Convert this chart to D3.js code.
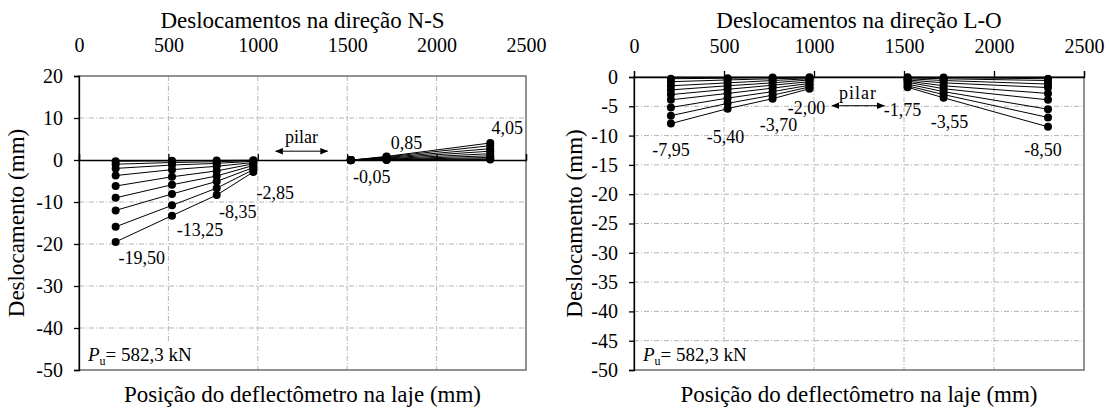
<!DOCTYPE html>
<html><head><meta charset="utf-8">
<script src="https://cdn.jsdelivr.net/npm/d3@7"></script>
<style>
html,body{margin:0;padding:0;background:#fff;}
svg, svg text{font-family:"Liberation Serif","Times New Roman",Tinos,"DejaVu Serif",serif !important;fill:#000;}
</style></head>
<body><svg id="c" width="1109" height="411" font-family="Liberation Serif, Times New Roman, DejaVu Serif, serif"></svg>
<script>
// ---------- data ----------
const positions = [205, 520, 770, 975, 1520, 1720, 2300];   // deflectometer positions (mm)
const leftGroup = [0, 1, 2, 3];     // indices left of the column
const rightGroup = [4, 5, 6];       // indices right of the column
const xTicks = [0, 500, 1000, 1500, 2000, 2500];
const nsYTicks = [20, 10, 0, -10, -20, -30, -40, -50];
const loYTicks = [0, -5, -10, -15, -20, -25, -30, -35, -40, -45, -50];

// N-S direction, one row per load step, values at each position (mm)
const nsSeries = [
  [-0.3, -0.2, -0.1, -0.05, 0.00, 0.02, 0.10],
  [-1.0, -0.6, -0.4, -0.15, 0.00, 0.05, 0.30],
  [-2.0, -1.2, -0.8, -0.30, 0.00, 0.10, 0.60],
  [-3.7, -2.3, -1.5, -0.60, 0.00, 0.20, 1.00],
  [-6.2, -4.0, -2.6, -0.90, -0.01, 0.30, 1.50],
  [-9.0, -5.9, -3.8, -1.30, -0.02, 0.45, 2.10],
  [-12.0, -8.1, -5.1, -1.80, -0.03, 0.60, 2.70],
  [-15.9, -10.8, -6.7, -2.30, -0.04, 0.75, 3.40],
  [-19.50, -13.25, -8.35, -2.85, -0.05, 0.85, 4.05]
];
// L-O direction
const loSeries = [
  [-0.3, -0.2, -0.1, -0.05, -0.05, -0.1, -0.3],
  [-0.8, -0.5, -0.3, -0.15, -0.15, -0.3, -0.6],
  [-1.5, -1.0, -0.6, -0.30, -0.30, -0.6, -1.2],
  [-2.2, -1.5, -1.0, -0.50, -0.50, -1.0, -1.8],
  [-3.0, -2.1, -1.4, -0.80, -0.70, -1.5, -2.8],
  [-3.9, -2.8, -1.9, -1.10, -0.90, -2.0, -3.9],
  [-5.2, -3.6, -2.5, -1.40, -1.20, -2.5, -5.5],
  [-6.6, -4.5, -3.1, -1.70, -1.50, -3.0, -6.9],
  [-7.95, -5.40, -3.70, -2.00, -1.75, -3.55, -8.50]
];
const titles = ["Deslocamentos na direção N-S", "Deslocamentos na direção L-O"];
const yLabel = "Deslocamento (mm)";
const xLabel = "Posição do deflectômetro na laje (mm)";
const pilarText = "pilar";
const pilarX = 1245;
const arrowX = [1100, 1390];
const puText = "= 582,3 kN";

// ---------- drawing ----------
const FONT = "Liberation Serif, Times New Roman, DejaVu Serif, serif";
const svg = d3.select("#c");
const fmt = v => v.toFixed(2).replace(".", ",");

function drawChart(o) {
  const x = d3.scaleLinear().domain([0, 2500]).range([o.x0, o.x1]);
  const y = d3.scaleLinear().domain(o.yDomain).range([o.yTop, o.yBot]);
  const g = svg.append("g").attr("font-family", FONT);

  // gridlines
  g.append("g").selectAll("line").data(xTicks.filter(d => d > 0 && d < 2500)).join("line")
    .attr("x1", d => x(d)).attr("x2", d => x(d)).attr("y1", o.yTop).attr("y2", o.yBot)
    .attr("stroke", "#b3b3b3").attr("stroke-width", 1).attr("stroke-dasharray", "5,2,1,2");
  g.append("g").selectAll("line").data(o.yTicks.filter(d => d !== 0 && d !== o.yDomain[0] && d !== o.yDomain[1])).join("line")
    .attr("x1", o.x0).attr("x2", o.x1).attr("y1", d => y(d)).attr("y2", d => y(d))
    .attr("stroke", "#b3b3b3").attr("stroke-width", 1).attr("stroke-dasharray", "5,2,1,2");

  // plot border
  g.append("rect").attr("x", o.x0).attr("y", o.yTop).attr("width", o.x1 - o.x0).attr("height", o.yBot - o.yTop)
    .attr("fill", "none").attr("stroke", "#6e6e6e").attr("stroke-width", 1.5);

  // Pu box
  const pu = g.append("g");
  pu.append("rect").attr("x", o.x0 + 1).attr("y", o.yBot - 28).attr("width", 118).attr("height", 27).attr("fill", "#fff");
  const t = pu.append("text").attr("x", o.x0 + 9).attr("y", o.yBot - 9).attr("font-size", 19);
  t.append("tspan").attr("font-style", "italic").text("P");
  t.append("tspan").attr("font-size", 12).attr("dy", 4).text("u");
  t.append("tspan").attr("dy", -4).text(puText);

  // zero axis line with ticks
  const xa = d3.axisTop(x).tickValues(xTicks).tickSize(6).tickFormat("");
  g.append("g").attr("transform", `translate(0,${y(0)})`).call(xa)
    .call(s => s.selectAll("path,line").attr("stroke", "#000").attr("stroke-width", 1.3));
  // top labels
  const xl = d3.axisTop(x).tickValues(xTicks).tickSize(0).tickPadding(0).tickFormat(d => d);
  g.append("g").attr("transform", `translate(0,${o.yTop - 24})`).call(xl)
    .attr("font-family", FONT).attr("font-size", 20)
    .call(s => s.select(".domain").remove());

  // y axis
  const ya = d3.axisLeft(y).tickValues(o.yTicks).tickSize(5).tickPadding(11).tickFormat(d => d);
  g.append("g").attr("transform", `translate(${o.x0},0)`).call(ya)
    .attr("font-family", FONT).attr("font-size", 20)
    .call(s => s.selectAll("path,line").attr("stroke", "#000").attr("stroke-width", 1.3));

  // series lines
  const line = d3.line().x(d => x(positions[d.i])).y(d => y(d.v));
  o.series.forEach(row => {
    [leftGroup, rightGroup].forEach(grp => {
      g.append("path").datum(grp.map(i => ({i, v: row[i]})))
        .attr("d", line).attr("fill", "none").attr("stroke", "#000").attr("stroke-width", 1);
    });
  });
  o.series.forEach(row => {
    g.append("g").selectAll("circle").data(row.map((v, i) => ({i, v}))).join("circle")
      .attr("cx", d => x(positions[d.i])).attr("cy", d => y(d.v)).attr("r", 4).attr("fill", "#000");
  });

  // value labels at final load step
  const last = o.series[o.series.length - 1];
  g.append("g").selectAll("text").data(last.map((v, i) => ({i, v}))).join("text")
    .attr("x", d => x(positions[d.i]) + o.labelOff[d.i][0])
    .attr("y", d => y(d.v) + o.labelOff[d.i][1] + 6)
    .attr("text-anchor", "middle").attr("font-size", 18).text(d => fmt(d.v));

  // pilar annotation
  g.append("text").attr("x", x(pilarX)).attr("y", y(o.pilarY) + 6).attr("text-anchor", "middle")
    .attr("font-size", 18).attr("letter-spacing", o.pilarSpacing).text(pilarText);
  g.append("line").attr("x1", x(arrowX[0])).attr("x2", x(arrowX[1]))
    .attr("y1", y(o.arrowY)).attr("y2", y(o.arrowY)).attr("stroke", "#000").attr("stroke-width", 1)
    .attr("marker-start", "url(#ah)").attr("marker-end", "url(#ah)");

  // titles
  const cx = (o.x0 + o.x1) / 2;
  g.append("text").attr("x", cx).attr("y", 28).attr("text-anchor", "middle").attr("font-size", 23).text(o.title);
  g.append("text").attr("x", cx).attr("y", 402).attr("text-anchor", "middle").attr("font-size", 23).text(xLabel);
  g.append("text").attr("transform", `translate(${o.ylabX},${(o.yTop + o.yBot) / 2}) rotate(-90)`)
    .attr("text-anchor", "middle").attr("font-size", 23).text(yLabel);
}

svg.append("defs").append("marker").attr("id", "ah").attr("viewBox", "0 0 10 10")
  .attr("refX", 9).attr("refY", 5).attr("markerWidth", 8).attr("markerHeight", 8)
  .attr("orient", "auto-start-reverse").attr("markerUnits", "userSpaceOnUse")
  .append("path").attr("d", "M0,1 L10,5 L0,9 Z").attr("fill", "#000");

drawChart({
  x0: 79, x1: 526, yTop: 76, yBot: 370, yDomain: [20, -50], yTicks: nsYTicks,
  series: nsSeries, title: titles[0], ylabX: 24, pilarY: 5.5, arrowY: 2.1, pilarSpacing: 0,
  labelOff: [[26, 16], [28, 14], [21, 17], [22, 21], [21, 17], [20, -13], [17, -15]]
});
drawChart({
  x0: 634, x1: 1084, yTop: 77, yBot: 370, yDomain: [0, -50], yTicks: loYTicks,
  series: loSeries, title: titles[1], ylabX: 582, pilarY: -2.7, arrowY: -4.9, pilarSpacing: 1,
  labelOff: [[0, 26], [-2, 28], [6, 26], [-3, 19], [-5, 23], [6, 24], [-5, 23]]
});
</script></body></html>
